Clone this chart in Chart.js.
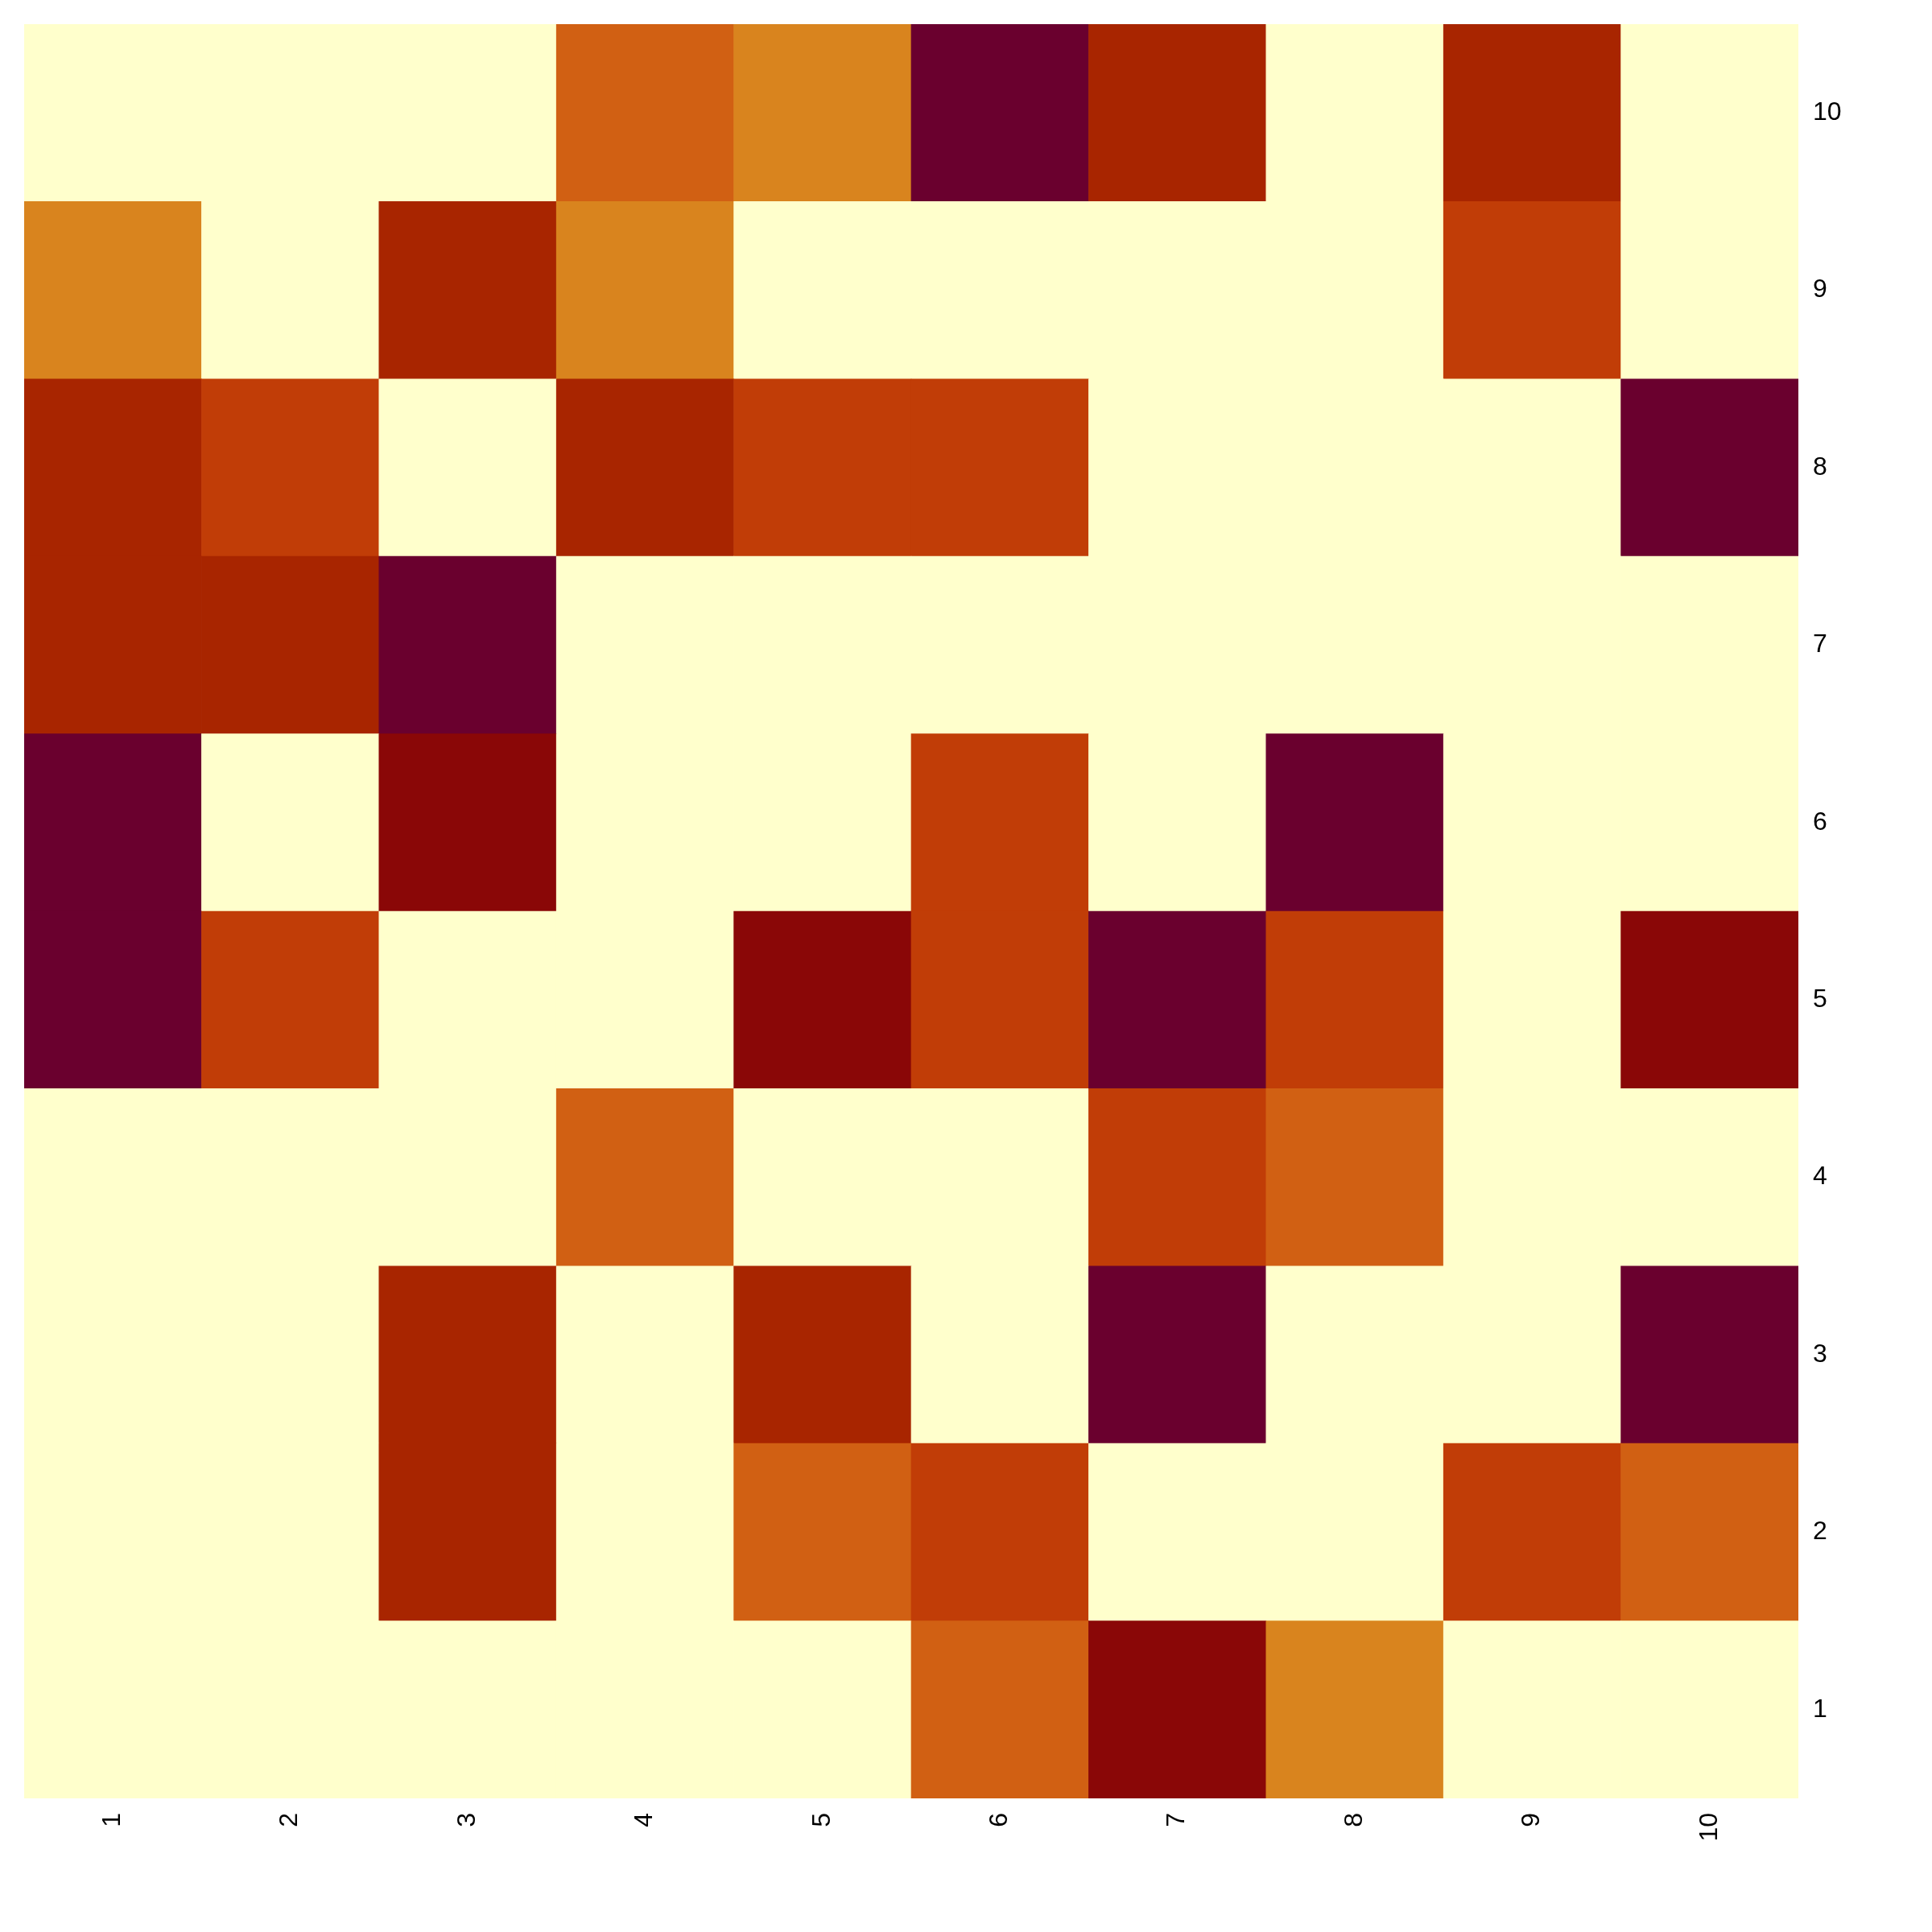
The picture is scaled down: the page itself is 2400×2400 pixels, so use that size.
<!DOCTYPE html>
<html>
<head>
<meta charset="utf-8">
<script src="https://cdn.jsdelivr.net/npm/chart.js@4.4.1/dist/chart.umd.min.js"></script>
<style>
  html, body { margin: 0; padding: 0; background: #fff; }
  #wrap { width: 2400px; height: 2400px; }
</style>
</head>
<body>
<div id="wrap"><canvas id="heat" width="2400" height="2400"></canvas></div>
<script>
// column and row labels
const xLabels = ['1','2','3','4','5','6','7','8','9','10'];
const yLabels = ['1','2','3','4','5','6','7','8','9','10'];

// colour level of each cell, one array per row (row label -> columns 1..10)
const row1  = [0,0,0,0,0,2,5,1,0,0];
const row2  = [0,0,4,0,2,3,0,0,3,2];
const row3  = [0,0,4,0,4,0,6,0,0,6];
const row4  = [0,0,0,2,0,0,3,2,0,0];
const row5  = [6,3,0,0,5,3,6,3,0,5];
const row6  = [6,0,5,0,0,3,0,6,0,0];
const row7  = [4,4,6,0,0,0,0,0,0,0];
const row8  = [4,3,0,4,3,3,0,0,0,6];
const row9  = [1,0,4,1,0,0,0,0,3,0];
const row10 = [0,0,0,2,1,6,4,0,4,0];
const rows = [row1,row2,row3,row4,row5,row6,row7,row8,row9,row10];

// level -> colour
const palette = ['#FFFFCC','#D9841E','#D16013','#C13D07','#A82500','#8A0707','#6A002E'];

const font = { family: '"Liberation Sans", Arial, Helvetica, sans-serif', size: 32 };

const datasets = rows.map((r, i) => ({
  label: yLabels[i],
  data: r.map(() => 1),
  backgroundColor: r.map(v => palette[v]),
  borderWidth: 0,
  categoryPercentage: 1,
  barPercentage: 1
}));

// drop the label overhang padding so the grid sits exactly where we want it
function noOverhang(s){
  s.paddingTop = 0; s.paddingBottom = 0;
  s.paddingLeft = 0; s.paddingRight = 0;
}

new Chart(document.getElementById('heat').getContext('2d'), {
  type: 'bar',
  data: { labels: xLabels, datasets },
  options: {
    responsive: false,
    animation: false,
    layout: { padding: { left: 30, top: 30, right: 0, bottom: 0 } },
    plugins: { legend: { display: false }, tooltip: { enabled: false } },
    scales: {
      x: {
        stacked: true,
        grid: { display: false, drawTicks: false },
        border: { display: false },
        ticks: { font, color: '#000', minRotation: 90, maxRotation: 90, padding: 18, autoSkip: false },
        afterFit: s => { s.height = 166; noOverhang(s); }
      },
      y: {
        stacked: true,
        position: 'right',
        min: 0, max: 10,
        grid: { display: false, drawTicks: false },
        border: { display: false },
        afterBuildTicks: s => { s.ticks = yLabels.map((l, i) => ({ value: i + 0.5 })); },
        ticks: { font, color: '#000', padding: 18, callback: (v, i) => yLabels[i] },
        afterFit: s => { s.width = 166; noOverhang(s); }
      }
    }
  }
});
</script>
</body>
</html>
